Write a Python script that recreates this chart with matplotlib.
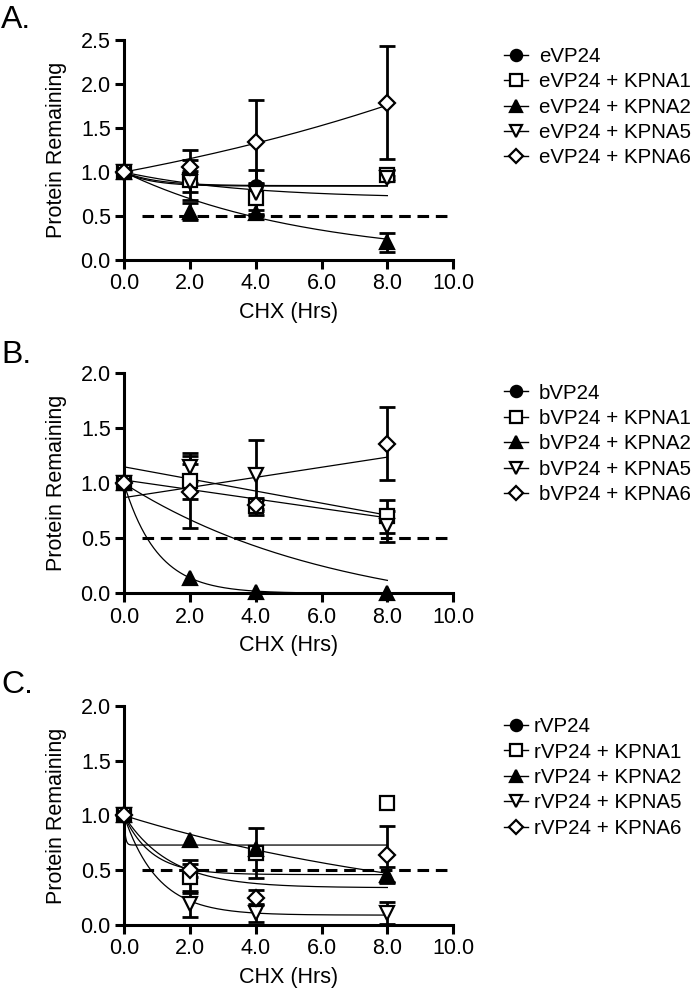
import numpy as np
import matplotlib
matplotlib.use('Agg')
import matplotlib.pyplot as plt
from matplotlib.lines import Line2D

plt.rcParams['font.family'] = ['Liberation Sans', 'DejaVu Sans']

nan = np.nan
hours = [0, 2, 4, 8]
suffixes = ['', ' + KPNA1', ' + KPNA2', ' + KPNA5', ' + KPNA6']
threshold = 0.5

# panel A (eVP24)
a_means = [[1.0, 0.91, 0.84, 0.96],
           [1.0, 0.91, 0.70, 0.97],
           [1.0, 0.55, 0.54, 0.20],
           [1.0, 0.89, 0.76, 0.93],
           [1.0, 1.06, 1.34, 1.79]]
a_sd = [[0, 0, 0, 0],
        [0, 0.23, 0.18, 0.05],
        [0, 0.10, 0.03, 0.11],
        [0, 0.12, 0.26, 0.03],
        [0, 0.19, 0.48, 0.64]]
# fits: ('exp', plateau, k) -> (1-p)*exp(-k t)+p ; ('lin', intercept, slope)
a_fits = [('exp', 0.84, 1.2), ('exp', 0.845, 1.0), ('exp', 0.0, 0.18),
          ('exp', 0.70, 0.28), ('exp', 0.0, -0.0707)]

# panel B (bVP24)
b_means = [[1.0, nan, nan, nan],
           [1.0, 1.02, 0.79, 0.70],
           [1.0, 0.14, 0.015, 0.0],
           [1.0, 1.15, 1.08, 0.61],
           [1.0, 0.92, 0.80, 1.36]]
b_sd = [[0, 0, 0, 0],
        [0, 0.16, 0.08, 0.15],
        [0, 0, 0, 0],
        [0, 0.13, 0.31, 0.14],
        [0, 0.33, 0.05, 0.33]]
b_fits = [('exp', -0.25, 0.153), ('lin', 1.03, -0.043), ('exp', 0.0, 0.98),
          ('lin', 1.15, -0.055), ('lin', 0.87, 0.046)]

# panel C (rVP24)
c_means = [[1.0, nan, nan, nan],
           [1.0, 0.44, 0.66, 1.11],
           [1.0, 0.78, 0.69, 0.46],
           [1.0, 0.19, 0.11, 0.11],
           [1.0, 0.50, 0.25, 0.64]]
c_sd = [[0, 0, 0, 0],
        [0, 0.15, 0.23, 0],
        [0, 0, 0, 0.07],
        [0, 0.12, 0.08, 0.10],
        [0, 0.06, 0.07, 0.26]]
c_fits = [('exp', 0.46, 1.19), ('exp', 0.73, 25.0), ('exp', 0.0, 0.094),
          ('exp', 0.09, 0.97), ('exp', 0.34, 0.71)]

markers = ['o', 's', '^', 'v', 'D']
msizes = [9, 10, 9.5, 10, 8]
faces = ['black', 'white', 'black', 'white', 'white']

FS = 15.5
LFS = 14.8


def fit_curve(fit, t):
    if fit[0] == 'exp':
        p, k = fit[1], fit[2]
        return (1 - p) * np.exp(-k * t) + p
    return fit[1] + fit[2] * t


def draw_panel(ax, means, sds, fits, ymax, prefix, letter, leg_top, textpad):
    t = np.linspace(0, 8, 600)
    for f in fits:
        ax.plot(t, fit_curve(f, t), color='black', lw=0.9, zorder=2)
    ax.plot([0.55, 10], [threshold, threshold], color='black', lw=2.2,
            ls=(0, (3.8, 2.2)), zorder=1)
    for i in range(len(means)):
        x = np.array(hours, dtype=float)
        y = np.array(means[i], dtype=float)
        e = np.array(sds[i], dtype=float)
        m = (e > 0) & ~np.isnan(y)
        if m.any():
            ax.errorbar(x[m], y[m], yerr=e[m], fmt='none', ecolor='black',
                        elinewidth=2, capsize=5.5, capthick=2, zorder=3,
                        clip_on=False)
    for i in range(len(means)):
        ax.plot(hours, means[i], ls='none', marker=markers[i], ms=msizes[i],
                mfc=faces[i], mec='black', mew=1.6, zorder=4 + i if i else 3.5,
                clip_on=False)

    ax.set_xlim(0, 10)
    ax.set_ylim(0, ymax)
    ax.set_xticks([0, 2, 4, 6, 8, 10])
    ax.set_xticklabels(['0.0', '2.0', '4.0', '6.0', '8.0', '10.0'])
    yt = np.arange(0, ymax + 0.01, 0.5)
    ax.set_yticks(yt)
    ax.set_yticklabels(['%.1f' % v for v in yt])
    for s in ['top', 'right']:
        ax.spines[s].set_visible(False)
    for s in ['left', 'bottom']:
        ax.spines[s].set_linewidth(2.2)
    ax.tick_params(width=2.2, length=6.5, labelsize=FS, direction='out', pad=3)
    ax.set_xlabel('CHX (Hrs)', fontsize=FS)
    ax.set_ylabel('Protein Remaining', fontsize=FS)
    ax.yaxis.set_label_coords(-0.173, 0.5)
    ax.xaxis.set_label_coords(0.5, -0.19)

    handles = []
    for i in range(len(means)):
        handles.append(Line2D([0], [0], color='black', lw=1, marker=markers[i],
                              ms=msizes[i] * 0.9, mfc=faces[i], mec='black', mew=1.6))
    labels = [prefix + s for s in suffixes]
    fig.legend(handles, labels, loc='upper left', bbox_to_anchor=(0.72, leg_top),
               frameon=False, fontsize=LFS, handlelength=1.15, handletextpad=textpad,
               labelspacing=0.31, borderpad=0, borderaxespad=0)
    pos = ax.get_position()
    fig.text(0.002, pos.y1 + letter[1], letter[0], fontsize=23, va='baseline')


fig = plt.figure(figsize=(7, 9.99), dpi=100)
axA = fig.add_axes([0.177, 0.7397, 0.4705, 0.2202])
axB = fig.add_axes([0.177, 0.4061, 0.4705, 0.2202])
axC = fig.add_axes([0.177, 0.0741, 0.4705, 0.2192])

draw_panel(axA, a_means, a_sd, a_fits, 2.5, 'eVP24', ('A.', 0.012), 0.953, 0.55)
draw_panel(axB, b_means, b_sd, b_fits, 2.0, 'bVP24', ('B.', 0.010), 0.616, 0.55)
draw_panel(axC, c_means, c_sd, c_fits, 2.0, 'rVP24', ('C.', 0.013), 0.282, 0.3)

fig.savefig('out.png', dpi=100)
